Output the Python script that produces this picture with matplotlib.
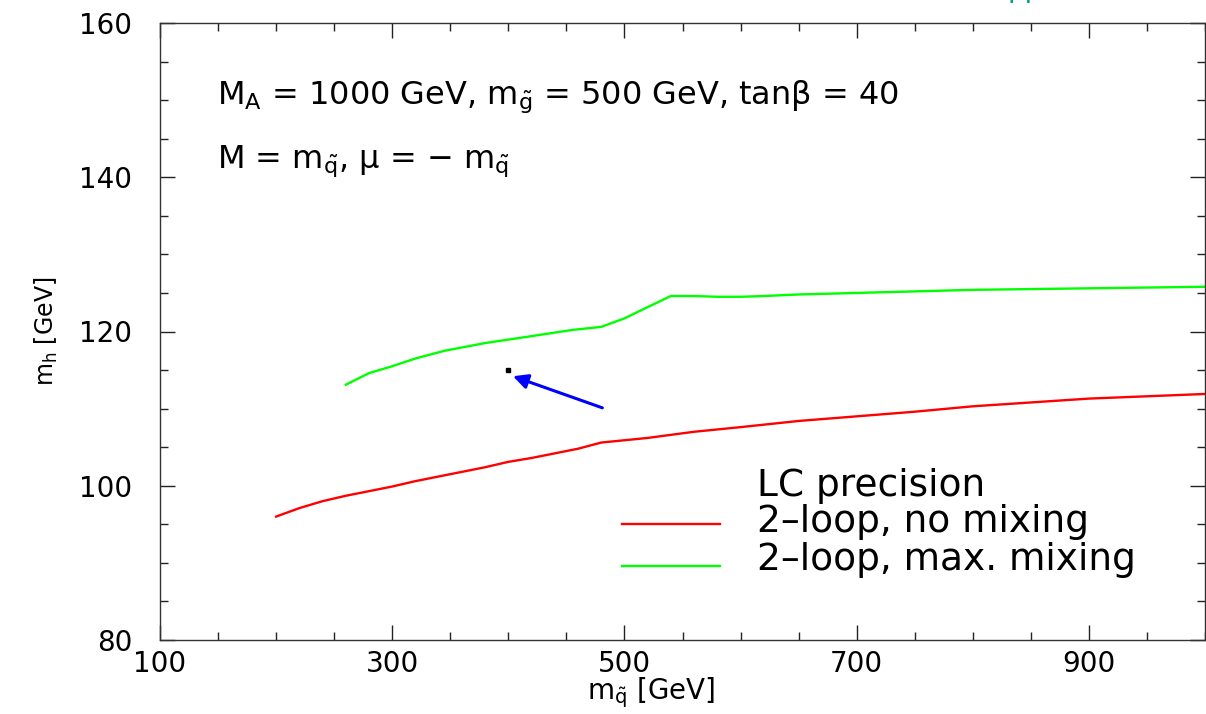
import matplotlib
matplotlib.use('Agg')
import matplotlib.pyplot as plt
from matplotlib.ticker import MultipleLocator

#===== DATA =======================================#
#-- 2-loop, no mixing (red)
msq_nomix = [200, 220, 240, 260, 280, 300, 320, 340, 360, 380, 400, 420, 440, 460, 480,
             500, 520, 540, 560, 580, 600, 650, 700, 750, 800, 850, 900, 950, 1000]
mh_nomix = [96.0, 97.1, 98.0, 98.7, 99.3, 99.9, 100.6, 101.2, 101.8, 102.4, 103.1, 103.6, 104.2, 104.8, 105.6,
            105.9, 106.2, 106.6, 107.0, 107.3, 107.6, 108.4, 109.0, 109.6, 110.3, 110.8, 111.3, 111.6, 111.9]

#-- 2-loop, max. mixing (green)
msq_maxmix = [260, 280, 300, 320, 345, 380, 420, 455, 480, 500, 515, 540,
              560, 580, 600, 620, 650, 700, 750, 800, 850, 900, 950, 1000]
mh_maxmix = [113.1, 114.6, 115.5, 116.5, 117.5, 118.5, 119.4, 120.2, 120.6, 121.7, 122.8, 124.6,
             124.6, 124.5, 124.5, 124.6, 124.8, 125.0, 125.2, 125.4, 125.5, 125.6, 125.7, 125.8]

#-- single point with arrow
point_x, point_y = 400, 115.0
arrow_from = (481, 110.1)
arrow_to = (404, 114.2)

x_ticks = [100, 300, 500, 700, 900]
y_ticks = [80, 100, 120, 140, 160]

legend_title = 'LC precision'
legend_labels = ['2\u2013loop, no mixing', '2\u2013loop, max. mixing']

#===== STYLE ======================================#
plt.rcParams['font.family'] = ['DejaVu Sans']
plt.rcParams['mathtext.fontset'] = 'dejavusans'

fig = plt.figure(figsize=(12.06, 7.14), dpi=100)
ax = fig.add_axes([160 / 1206, 1 - 640 / 714, 1045 / 1206, 617 / 714])

#===== PLOT =======================================#
ax.plot(msq_nomix, mh_nomix, color='#ff0000', lw=1.7)
ax.plot(msq_maxmix, mh_maxmix, color='#00ff00', lw=1.7)
ax.plot([point_x], [point_y], 's', color='black', ms=2.5)
ax.annotate('', xy=arrow_to, xytext=arrow_from,
            arrowprops=dict(arrowstyle='-|>', color='#0000ff', lw=2.2, mutation_scale=22,
                            shrinkA=0, shrinkB=0))

ax.set_xlim(100, 1000)
ax.set_ylim(80, 160)
ax.set_xticks(x_ticks)
ax.set_yticks(y_ticks)
ax.xaxis.set_minor_locator(MultipleLocator(50))
ax.yaxis.set_minor_locator(MultipleLocator(5))
ax.tick_params(which='both', direction='in', top=True, right=True, labelsize=20, color='#222222')
ax.tick_params(axis='x', which='major', pad=7)
ax.tick_params(axis='y', which='major', pad=20)
ax.tick_params(which='major', length=11, width=1.0)
ax.tick_params(which='minor', length=6, width=1.0)
for s in ax.spines.values():
    s.set_color('#333333')
    s.set_linewidth(1.0)

ax.set_xlabel(r'm$_{\tilde{\mathrm{q}}}$ [GeV]', fontsize=20)
ax.xaxis.set_label_coords(0.47, -0.058)
ax.set_ylabel(r'm$_{\mathrm{h}}$ [GeV]', fontsize=17, labelpad=14)

#-- annotation text
ax.text(149, 149.6, r'M$_{\mathrm{A}}$ = 1000 GeV, m$_{\tilde{\mathrm{g}}}$ = 500 GeV, tan' + '\u03b2 = 40',
        fontsize=23, va='baseline')
ax.text(149, 141.2, r'M = m$_{\tilde{\mathrm{q}}}$, ' + '\u03bc = \u2212 ' + r'm$_{\tilde{\mathrm{q}}}$',
        fontsize=23, va='baseline')

#-- legend made by hand
ax.text(614, 98.7, legend_title, fontsize=27, va='baseline')
ax.plot([498, 582], [95.0, 95.0], color='#ff0000', lw=1.7)
ax.text(614, 94.0, legend_labels[0], fontsize=27, va='baseline')
ax.plot([498, 582], [89.6, 89.6], color='#00ff00', lw=1.7)
ax.text(614, 89.1, legend_labels[1], fontsize=27, va='baseline')

#-- cut off text at the top edge
fig.text(1008 / 1206, 1 + 3 / 714, 'pp', color='#00a080', fontsize=20, va='baseline')

fig.savefig('out.png', dpi=100)
